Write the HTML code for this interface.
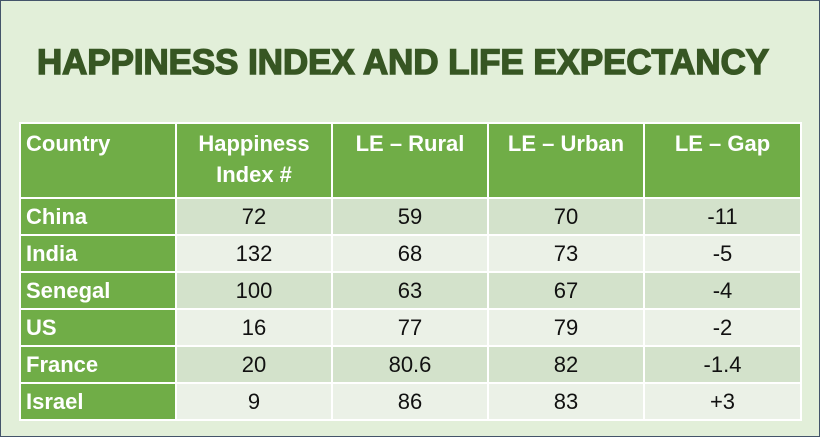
<!DOCTYPE html>
<html><head><style>
body{margin:0;width:820px;height:437px;overflow:hidden;background:#fff}
.wrap{position:absolute;left:0;top:0;width:818px;height:435px;border:1px solid #44546a;background:#e2efd9}
table{position:absolute;left:18px;top:121px;width:781px;table-layout:fixed;border-collapse:collapse;font-family:"Liberation Sans",sans-serif;font-size:22px}
td{border:2px solid #fff;padding:0;text-align:center;color:#111;height:37px;box-sizing:border-box}
th{border:2px solid #fff;background:#70ad47;color:#fff;font-weight:bold;vertical-align:top;height:75px;padding:4px 0 0 0;line-height:31px;box-sizing:border-box}
td.c{background:#70ad47;color:#fff;font-weight:bold;text-align:left;padding-left:5px}
tr.a td{background:#d3e2cb}
tr.b td{background:#ebf1e7}
tr.a td.c,tr.b td.c{background:#70ad47}
</style></head><body>
<div class="wrap">
<svg width="820" height="120" style="position:absolute;left:0;top:0">
<text x="36" y="73" textLength="732" lengthAdjust="spacingAndGlyphs" font-family="Liberation Sans, sans-serif" font-weight="bold" font-size="35" fill="#375623" stroke="#375623" stroke-width="1.5">HAPPINESS INDEX AND LIFE EXPECTANCY</text>
</svg>
<table>
<colgroup><col style="width:156px"><col style="width:156px"><col style="width:156px"><col style="width:156px"><col style="width:157px"></colgroup>
<tr><th style="text-align:left;padding-left:5px">Country</th><th>Happiness<br>Index #</th><th>LE – Rural</th><th>LE – Urban</th><th>LE – Gap</th></tr>
<tr class="a"><td class="c">China</td><td>72</td><td>59</td><td>70</td><td>-11</td></tr>
<tr class="b"><td class="c">India</td><td>132</td><td>68</td><td>73</td><td>-5</td></tr>
<tr class="a"><td class="c">Senegal</td><td>100</td><td>63</td><td>67</td><td>-4</td></tr>
<tr class="b"><td class="c">US</td><td>16</td><td>77</td><td>79</td><td>-2</td></tr>
<tr class="a"><td class="c">France</td><td>20</td><td>80.6</td><td>82</td><td>-1.4</td></tr>
<tr class="b"><td class="c">Israel</td><td>9</td><td>86</td><td>83</td><td>+3</td></tr>
</table>
</div>
</body></html>
